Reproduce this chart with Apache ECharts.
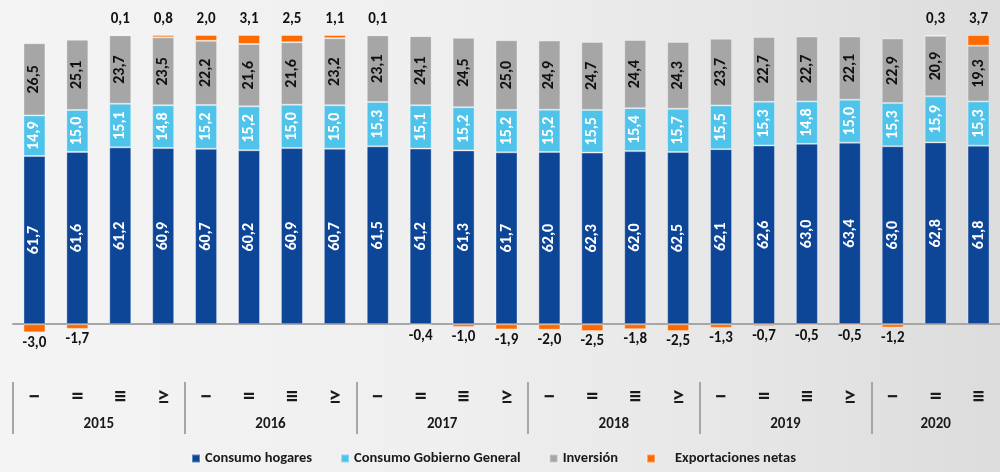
<!DOCTYPE html>
<html>
<head>
<meta charset="utf-8">
<script src="https://cdn.jsdelivr.net/npm/echarts@6/dist/echarts.min.js"></script>
<style>
  html, body { margin: 0; padding: 0; }
  #chart {
    width: 1000px;
    height: 472px;
    background: linear-gradient(to right, #f4f4f4 0%, #efefef 45%, #e6e6e6 75%, #dcdcdc 100%);
  }
</style>
</head>
<body>
<div id="chart"></div>
<script>
// trimestres y años
const quarters = ["−", "=", "≡", "≥", "−", "=", "≡", "≥", "−", "=", "≡", "≥",
  "−", "=", "≡", "≥", "−", "=", "≡", "≥", "−", "=", "≡"];
const years = ["2015", "2016", "2017", "2018", "2019", "2020"];
const quartersPerYear = [4, 4, 4, 4, 4, 3];

// participación en el PIB (%)
const hogares = [61.7, 61.6, 61.2, 60.9, 60.7, 60.2, 60.9, 60.7, 61.5, 61.2, 61.3, 61.7,
  62.0, 62.3, 62.0, 62.5, 62.1, 62.6, 63.0, 63.4, 63.0, 62.8, 61.8];
const gobierno = [14.9, 15.0, 15.1, 14.8, 15.2, 15.2, 15.0, 15.0, 15.3, 15.1, 15.2, 15.2,
  15.2, 15.5, 15.4, 15.7, 15.5, 15.3, 14.8, 15.0, 15.3, 15.9, 15.3];
const inversion = [26.5, 25.1, 23.7, 23.5, 22.2, 21.6, 21.6, 23.2, 23.1, 24.1, 24.5, 25.0,
  24.9, 24.7, 24.4, 24.3, 23.7, 22.7, 22.7, 22.1, 22.9, 20.9, 19.3];
const exportaciones = [-3.0, -1.7, 0.1, 0.8, 2.0, 3.1, 2.5, 1.1, 0.1, -0.4, -1.0, -1.9,
  -2.0, -2.5, -1.8, -2.5, -1.3, -0.7, -0.5, -0.5, -1.2, 0.3, 3.7];

const FONT = "Carlito, Lato, sans-serif";
const fmt = v => v.toFixed(1).replace(".", ",");

// barras 100% apiladas (como Excel: sobre la suma de valores absolutos)
const totals = hogares.map((h, i) =>
  Math.abs(h) + Math.abs(gobierno[i]) + Math.abs(inversion[i]) + Math.abs(exportaciones[i]));
const pct = arr => arr.map((v, i) => v / totals[i] * 100);

// eje de años: puntos a medio trimestre
const half = [];
const yearLabelAt = {};
const sepAt = {};
let k = 0;
years.forEach((y, i) => {
  sepAt[k] = true;
  yearLabelAt[k + quartersPerYear[i]] = y;
  k += quartersPerYear[i] * 2;
});
for (let j = 0; j <= k; j++) half.push(yearLabelAt[j] || "");

const myChart = echarts.init(document.getElementById("chart"));

function barSeries(name, arr, color, textColor) {
  return {
    name: name,
    type: "bar",
    stack: "total",
    barWidth: 22,
    xAxisIndex: 0,
    data: pct(arr),
    itemStyle: { color: color, borderColor: "rgba(255,255,255,0.35)", borderWidth: 1 },
    label: {
      show: true,
      position: "inside",
      rotate: 90,
      color: textColor,
      fontFamily: FONT,
      fontWeight: "bold",
      fontSize: 16,
      formatter: p => fmt(arr[p.dataIndex]),
    },
  };
}

myChart.setOption({
  animation: false,
  backgroundColor: "transparent",
  textStyle: { fontFamily: FONT },
  grid: { left: 13, right: 0, top: 35, bottom: 90 },
  legend: {
    bottom: 1,
    left: 186,
    itemWidth: 8,
    itemHeight: 8,
    itemGap: 28,
    icon: "rect",
    textStyle: { fontFamily: FONT, fontWeight: "bold", fontSize: 14.5, color: "#1a1a1a" },
    data: [
      "Consumo hogares",
      "Consumo Gobierno General",
      "Inversión",
      { name: "Exportaciones netas", textStyle: { padding: [0, 0, 0, 15] } },
    ],
  },
  xAxis: [
    {
      type: "category",
      data: quarters,
      position: "bottom",
      axisLine: { show: false, onZero: false },
      axisTick: { show: false },
      axisLabel: { margin: 4, color: "#1a1a1a", fontWeight: "bold", fontSize: 24, fontFamily: FONT },
    },
    {
      type: "category",
      data: half,
      boundaryGap: false,
      position: "bottom",
      axisLine: { show: false, onZero: false },
      axisTick: {
        show: true,
        length: 52,
        interval: idx => !!sepAt[idx],
        lineStyle: { color: "#a6a6a6", width: 2 },
      },
      axisLabel: {
        margin: 35,
        interval: idx => !!yearLabelAt[idx],
        color: "#1a1a1a",
        fontWeight: "bold",
        fontSize: 15,
        fontFamily: FONT,
      },
    },
    {
      type: "category",
      data: quarters,
      position: "bottom",
      axisLine: { show: true, onZero: true, lineStyle: { color: "#a6a6a6", width: 2 } },
      axisTick: { show: false },
      axisLabel: { show: false },
    },
  ],
  yAxis: { type: "value", min: -20, max: 100, show: false, splitLine: { show: false } },
  series: [
    barSeries("Consumo hogares", hogares, "#0d4597", "#ffffff"),
    barSeries("Consumo Gobierno General", gobierno, "#4fc3ea", "#ffffff"),
    barSeries("Inversión", inversion, "#a6a6a6", "#111111"),
    {
      name: "Exportaciones netas",
      type: "bar",
      stack: "total",
      barWidth: 22,
      xAxisIndex: 0,
      itemStyle: { color: "#ff6a00", borderColor: "rgba(255,255,255,0.35)", borderWidth: 1 },
      data: pct(exportaciones).map((v, i) => ({
        value: v,
        label: { position: exportaciones[i] < 0 ? "bottom" : "top", distance: exportaciones[i] < 0 ? 3 : 8 },
      })),
      label: {
        show: true,
        color: "#111111",
        fontFamily: FONT,
        fontWeight: "bold",
        fontSize: 15,
        formatter: p => fmt(exportaciones[p.dataIndex]),
      },
    },
  ],
});
</script>
</body>
</html>
